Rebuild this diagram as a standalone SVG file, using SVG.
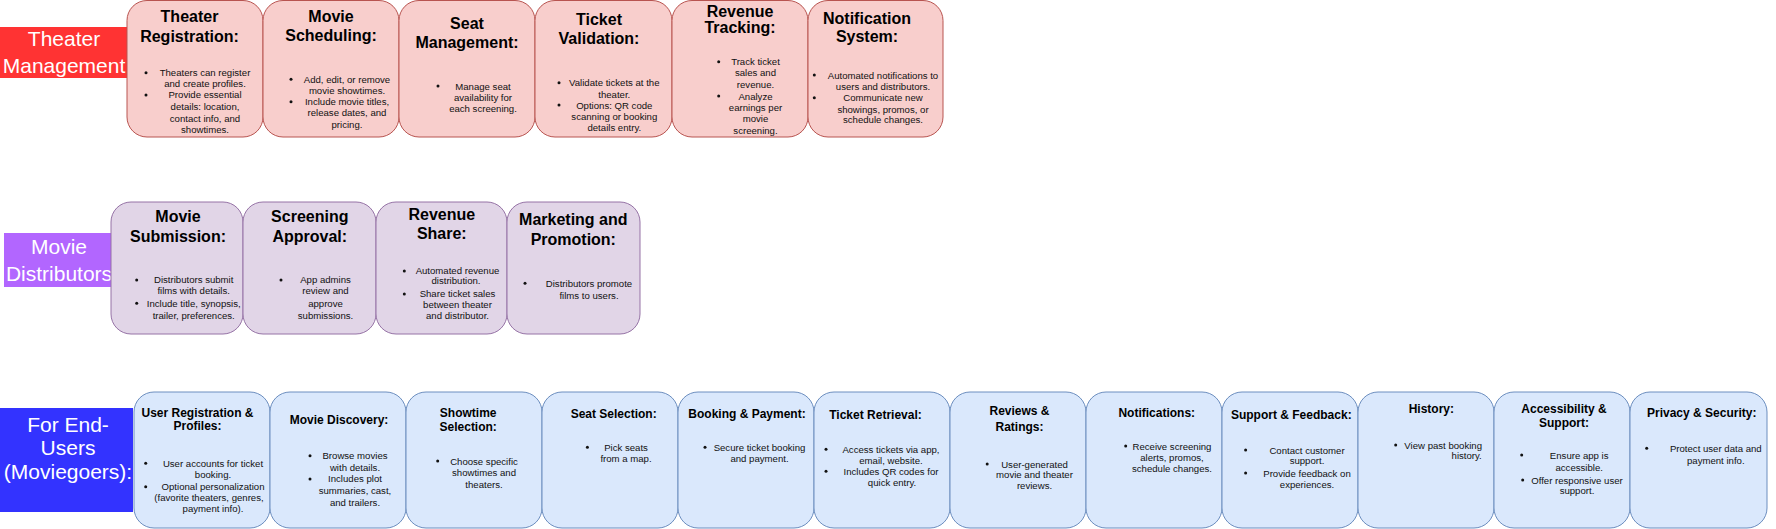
<svg xmlns="http://www.w3.org/2000/svg" width="1776" height="529" viewBox="0 0 1776 529">
<style>
text{font-family:"Liberation Sans",Arial,Helvetica,sans-serif;text-anchor:middle;fill:#000}
.h1{font-size:16px;font-weight:bold}
.h3{font-size:12px;font-weight:bold}
.b{font-size:9.6px;fill:#111}
.lbl{font-size:21px;fill:#fff}
.red{fill:#f8cecc;stroke:#b85450;stroke-width:1}
.pur{fill:#e1d5e7;stroke:#9673a6;stroke-width:1}
.blu{fill:#dae8fc;stroke:#6c8ebf;stroke-width:1}
.dot{fill:#111}
</style>
<rect width="1776" height="529" fill="#fff"/>

<!-- Section labels -->
<g id="label-theater-management">
<rect x="0" y="27" width="127" height="51" fill="#ff3333"/>
<text class="lbl" x="64" y="45.5">Theater</text>
<text class="lbl" x="64" y="72.5">Management</text>
</g>
<g id="label-movie-distributors">
<rect x="4" y="233" width="108" height="54" fill="#b266ff"/>
<text class="lbl" x="59" y="254">Movie</text>
<text class="lbl" x="59" y="280.5">Distributors</text>
</g>
<g id="label-end-users">
<rect x="0" y="408" width="133" height="104" fill="#3333ff"/>
<text class="lbl" x="68" y="431.5">For End-</text>
<text class="lbl" x="68" y="454.5">Users</text>
<text class="lbl" x="68" y="479">(Moviegoers):</text>
</g>

<!-- Theater Management row -->
<g id="theater-registration">
<rect class="red" x="127" y="0.5" width="136" height="136.5" rx="20"/>
<text class="h1" x="189.5" y="22">Theater</text>
<text class="h1" x="189.5" y="42">Registration:</text>
<circle class="dot" cx="146" cy="72.7" r="1.5"/>
<circle class="dot" cx="146" cy="95" r="1.5"/>
<text class="b" x="205" y="76">Theaters can register</text>
<text class="b" x="205" y="87">and create profiles.</text>
<text class="b" x="205" y="98.3">Provide essential</text>
<text class="b" x="205" y="110">details: location,</text>
<text class="b" x="205" y="121.5">contact info, and</text>
<text class="b" x="205" y="132.5">showtimes.</text>
</g>
<g id="movie-scheduling">
<rect class="red" x="263" y="0.5" width="136" height="136.5" rx="20"/>
<text class="h1" x="331" y="22">Movie</text>
<text class="h1" x="331" y="41">Scheduling:</text>
<circle class="dot" cx="291" cy="79.3" r="1.5"/>
<circle class="dot" cx="291" cy="101.7" r="1.5"/>
<text class="b" x="347" y="82.5">Add, edit, or remove</text>
<text class="b" x="347" y="93.8">movie showtimes.</text>
<text class="b" x="347" y="105">Include movie titles,</text>
<text class="b" x="347" y="116.3">release dates, and</text>
<text class="b" x="347" y="127.6">pricing.</text>
</g>
<g id="seat-management">
<rect class="red" x="399" y="0.5" width="136" height="136.5" rx="20"/>
<text class="h1" x="467" y="28.5">Seat</text>
<text class="h1" x="467" y="48">Management:</text>
<circle class="dot" cx="438" cy="86" r="1.5"/>
<text class="b" x="483" y="89.5">Manage seat</text>
<text class="b" x="483" y="100.8">availability for</text>
<text class="b" x="483" y="112">each screening.</text>
</g>
<g id="ticket-validation">
<rect class="red" x="535" y="0.5" width="137" height="136.5" rx="20"/>
<text class="h1" x="599" y="25">Ticket</text>
<text class="h1" x="599" y="43.5">Validation:</text>
<circle class="dot" cx="559" cy="82.7" r="1.5"/>
<circle class="dot" cx="559" cy="105" r="1.5"/>
<text class="b" x="614.3" y="86">Validate tickets at the</text>
<text class="b" x="614.3" y="97.5">theater.</text>
<text class="b" x="614.3" y="108.5">Options: QR code</text>
<text class="b" x="614.3" y="120">scanning or booking</text>
<text class="b" x="614.3" y="131">details entry.</text>
</g>
<g id="revenue-tracking">
<rect class="red" x="672" y="0.5" width="136" height="136.5" rx="20"/>
<text class="h1" x="740" y="17">Revenue</text>
<text class="h1" x="740" y="32.5">Tracking:</text>
<circle class="dot" cx="718.7" cy="61.7" r="1.5"/>
<circle class="dot" cx="718.7" cy="96" r="1.5"/>
<text class="b" x="755.5" y="65">Track ticket</text>
<text class="b" x="755.5" y="76">sales and</text>
<text class="b" x="755.5" y="87.5">revenue.</text>
<text class="b" x="755.5" y="99.5">Analyze</text>
<text class="b" x="755.5" y="111">earnings per</text>
<text class="b" x="755.5" y="122">movie</text>
<text class="b" x="755.5" y="133.5">screening.</text>
</g>
<g id="notification-system">
<rect class="red" x="808" y="0.5" width="135" height="136.5" rx="20"/>
<text class="h1" x="867" y="24">Notification</text>
<text class="h1" x="867" y="41.7">System:</text>
<circle class="dot" cx="814.3" cy="75" r="1.5"/>
<circle class="dot" cx="814.3" cy="97.7" r="1.5"/>
<text class="b" x="883" y="78.5">Automated notifications to</text>
<text class="b" x="883" y="89.5">users and distributors.</text>
<text class="b" x="883" y="101">Communicate new</text>
<text class="b" x="883" y="112.5">showings, promos, or</text>
<text class="b" x="883" y="123">schedule changes.</text>
</g>

<!-- Movie Distributors row -->
<g id="movie-submission">
<rect class="pur" x="111" y="202" width="132" height="132" rx="20"/>
<text class="h1" x="178" y="222.3">Movie</text>
<text class="h1" x="178" y="241.7">Submission:</text>
<circle class="dot" cx="136.7" cy="280" r="1.5"/>
<circle class="dot" cx="136.7" cy="303.3" r="1.5"/>
<text class="b" x="193.7" y="283.3">Distributors submit</text>
<text class="b" x="193.7" y="294">films with details.</text>
<text class="b" x="193.7" y="306.5">Include title, synopsis,</text>
<text class="b" x="193.7" y="319">trailer, preferences.</text>
</g>
<g id="screening-approval">
<rect class="pur" x="243" y="202" width="133" height="132" rx="20"/>
<text class="h1" x="309.8" y="222.3">Screening</text>
<text class="h1" x="309.8" y="241.7">Approval:</text>
<circle class="dot" cx="281" cy="280" r="1.5"/>
<text class="b" x="325.5" y="283.3">App admins</text>
<text class="b" x="325.5" y="294">review and</text>
<text class="b" x="325.5" y="306.5">approve</text>
<text class="b" x="325.5" y="319">submissions.</text>
</g>
<g id="revenue-share">
<rect class="pur" x="376" y="202" width="131" height="132" rx="20"/>
<text class="h1" x="441.8" y="220">Revenue</text>
<text class="h1" x="441.8" y="239">Share:</text>
<circle class="dot" cx="404.3" cy="271" r="1.5"/>
<circle class="dot" cx="404.3" cy="294" r="1.5"/>
<text class="b" x="457.5" y="274.3">Automated revenue</text>
<text class="b" x="456" y="284.3">distribution.</text>
<text class="b" x="457.5" y="297.3">Share ticket sales</text>
<text class="b" x="457.5" y="308.3">between theater</text>
<text class="b" x="457.5" y="319.3">and distributor.</text>
</g>
<g id="marketing-promotion">
<rect class="pur" x="507" y="202" width="133" height="132" rx="20"/>
<text class="h1" x="573.3" y="225">Marketing and</text>
<text class="h1" x="573.3" y="245">Promotion:</text>
<circle class="dot" cx="525" cy="283.3" r="1.5"/>
<text class="b" x="589" y="286.6">Distributors promote</text>
<text class="b" x="589" y="299.3">films to users.</text>
</g>

<!-- End-Users row -->
<g id="user-registration">
<rect class="blu" x="134" y="392" width="136" height="136" rx="20"/>
<text class="h3" x="197.5" y="416.7">User Registration &amp;</text>
<text class="h3" x="197.5" y="430">Profiles:</text>
<circle class="dot" cx="145.7" cy="463.3" r="1.5"/>
<circle class="dot" cx="145.7" cy="486.7" r="1.5"/>
<text class="b" x="213" y="466.6">User accounts for ticket</text>
<text class="b" x="213" y="477.6">booking.</text>
<text class="b" x="213" y="490">Optional personalization</text>
<text class="b" x="209" y="501">(favorite theaters, genres,</text>
<text class="b" x="213" y="511.6">payment info).</text>
</g>
<g id="movie-discovery">
<rect class="blu" x="270" y="392" width="136" height="136" rx="20"/>
<text class="h3" x="339" y="423.5">Movie Discovery:</text>
<circle class="dot" cx="310" cy="455.7" r="1.5"/>
<circle class="dot" cx="310" cy="479" r="1.5"/>
<text class="b" x="355" y="459">Browse movies</text>
<text class="b" x="355" y="470.6">with details.</text>
<text class="b" x="355" y="482.3">Includes plot</text>
<text class="b" x="355" y="494">summaries, cast,</text>
<text class="b" x="355" y="505.6">and trailers.</text>
</g>
<g id="showtime-selection">
<rect class="blu" x="406" y="392" width="136" height="136" rx="20"/>
<text class="h3" x="468.2" y="416.5">Showtime</text>
<text class="h3" x="468.2" y="431">Selection:</text>
<circle class="dot" cx="437.7" cy="461" r="1.5"/>
<text class="b" x="484" y="464.5">Choose specific</text>
<text class="b" x="484" y="476">showtimes and</text>
<text class="b" x="484" y="487.5">theaters.</text>
</g>
<g id="seat-selection">
<rect class="blu" x="542" y="392" width="136" height="136" rx="20"/>
<text class="h3" x="613.7" y="417.5">Seat Selection:</text>
<circle class="dot" cx="587.4" cy="447.3" r="1.5"/>
<text class="b" x="626" y="450.8">Pick seats</text>
<text class="b" x="626" y="461.5">from a map.</text>
</g>
<g id="booking-payment">
<rect class="blu" x="678" y="392" width="136" height="136" rx="20"/>
<text class="h3" x="747" y="417.5">Booking &amp; Payment:</text>
<circle class="dot" cx="705" cy="447.3" r="1.5"/>
<text class="b" x="759.5" y="450.8">Secure ticket booking</text>
<text class="b" x="759.5" y="461.5">and payment.</text>
</g>
<g id="ticket-retrieval">
<rect class="blu" x="814" y="392" width="136" height="136" rx="20"/>
<text class="h3" x="875.5" y="418.5">Ticket Retrieval:</text>
<circle class="dot" cx="826" cy="449.3" r="1.5"/>
<circle class="dot" cx="826" cy="471.3" r="1.5"/>
<text class="b" x="891" y="452.8">Access tickets via app,</text>
<text class="b" x="891" y="463.8">email, website.</text>
<text class="b" x="891" y="474.8">Includes QR codes for</text>
<text class="b" x="892" y="485.8">quick entry.</text>
</g>
<g id="reviews-ratings">
<rect class="blu" x="950" y="392" width="136" height="136" rx="20"/>
<text class="h3" x="1019.5" y="414.5">Reviews &amp;</text>
<text class="h3" x="1019.5" y="430.5">Ratings:</text>
<circle class="dot" cx="987.2" cy="464" r="1.5"/>
<text class="b" x="1034.5" y="467.5">User-generated</text>
<text class="b" x="1034.5" y="478">movie and theater</text>
<text class="b" x="1034.5" y="488.8">reviews.</text>
</g>
<g id="notifications">
<rect class="blu" x="1086" y="392" width="136" height="136" rx="20"/>
<text class="h3" x="1156.8" y="416.5">Notifications:</text>
<circle class="dot" cx="1125.7" cy="446" r="1.5"/>
<text class="b" x="1172" y="449.5">Receive screening</text>
<text class="b" x="1172" y="460.5">alerts, promos,</text>
<text class="b" x="1172" y="471.5">schedule changes.</text>
</g>
<g id="support-feedback">
<rect class="blu" x="1222" y="392" width="136" height="136" rx="20"/>
<text class="h3" x="1291.3" y="418.5">Support &amp; Feedback:</text>
<circle class="dot" cx="1245.6" cy="450" r="1.5"/>
<circle class="dot" cx="1245.6" cy="473" r="1.5"/>
<text class="b" x="1307" y="453.5">Contact customer</text>
<text class="b" x="1307" y="464">support.</text>
<text class="b" x="1307" y="476.5">Provide feedback on</text>
<text class="b" x="1307" y="487.5">experiences.</text>
</g>
<g id="history">
<rect class="blu" x="1358" y="392" width="136" height="136" rx="20"/>
<text class="h3" x="1431.3" y="412.7">History:</text>
<circle class="dot" cx="1395.7" cy="445" r="1.5"/>
<text class="b" x="1443.2" y="448.5">View past booking</text>
<text class="b" x="1466.7" y="459">history.</text>
</g>
<g id="accessibility-support">
<rect class="blu" x="1494" y="392" width="136" height="136" rx="20"/>
<text class="h3" x="1564" y="412.7">Accessibility &amp;</text>
<text class="h3" x="1564" y="427">Support:</text>
<circle class="dot" cx="1521.7" cy="455" r="1.5"/>
<circle class="dot" cx="1522.7" cy="480" r="1.5"/>
<text class="b" x="1579.2" y="458.5">Ensure app is</text>
<text class="b" x="1579.2" y="471">accessible.</text>
<text class="b" x="1577" y="483.5">Offer responsive user</text>
<text class="b" x="1577" y="494">support.</text>
</g>
<g id="privacy-security">
<rect class="blu" x="1630" y="392" width="137" height="136" rx="20"/>
<text class="h3" x="1701.7" y="417.3">Privacy &amp; Security:</text>
<circle class="dot" cx="1646.7" cy="448.3" r="1.5"/>
<text class="b" x="1715.8" y="451.8">Protect user data and</text>
<text class="b" x="1715.8" y="463.5">payment info.</text>
</g>

<g id="connectors"></g>
</svg>
